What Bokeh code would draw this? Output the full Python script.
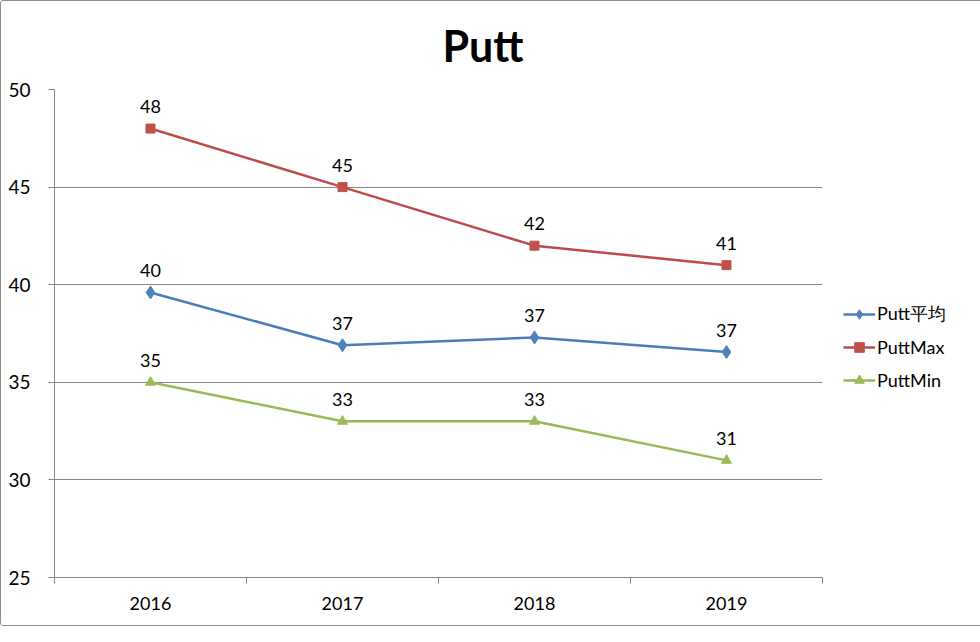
from bokeh.plotting import figure
from bokeh.models import Range1d, FixedTicker, Legend, LegendItem, ColumnDataSource
from bokeh.embed import file_html
from bokeh.resources import INLINE
from bokeh.core.properties import value

years = ["2016", "2017", "2018", "2019"]
putt_avg = [39.6, 36.9, 37.3, 36.55]
putt_max = [48, 45, 42, 41]
putt_min = [35, 33, 33, 31]
y_ticks = [25, 30, 35, 40, 45, 50]

FONT = "Lato, 'Noto Sans CJK SC', sans-serif"

xs = [i + 0.5 for i in range(len(years))]

p = figure(frame_width=768, frame_height=488, output_backend="svg", toolbar_location=None,
           x_range=Range1d(0, len(years)), y_range=Range1d(25, 50),
           min_border_left=53, min_border_right=141, min_border_top=88, min_border_bottom=48,
           title="Putt")
p.styles = {"border": "1px solid #8c8c8c", "border-radius": "3px"}
p.outline_line_color = None
p.background_fill_color = "white"
p.border_fill_color = "white"

p.title.text_font = FONT
p.title.text_font_size = "43px"
p.title.text_font_style = "bold"
p.title.text_color = "black"
p.title.align = "left"
p.title.offset = 388
p.title.vertical_align = "top"
p.title.standoff = 34

# x axis
p.xaxis.ticker = FixedTicker(ticks=xs, minor_ticks=list(range(len(years) + 1)))
p.xaxis.major_label_overrides = {x: y for x, y in zip(xs, years)}
p.xaxis.major_tick_line_color = None
p.xaxis.major_tick_out = 0
p.xaxis.major_tick_in = 0
p.xaxis.minor_tick_line_color = "#868686"
p.xaxis.minor_tick_out = 6
p.xaxis.minor_tick_in = 0
p.xaxis.axis_line_color = "#868686"
p.xaxis.major_label_text_font = FONT
p.xaxis.major_label_text_font_size = "18px"
p.xaxis.major_label_text_color = "black"
p.xaxis.major_label_standoff = 13

# y axis
p.yaxis.ticker = FixedTicker(ticks=y_ticks)
p.yaxis.axis_line_color = "#868686"
p.yaxis.major_tick_line_color = "#868686"
p.yaxis.major_tick_out = 6
p.yaxis.major_tick_in = 0
p.yaxis.minor_tick_line_color = None
p.yaxis.major_label_text_font = FONT
p.yaxis.major_label_text_font_size = "19px"
p.yaxis.major_label_text_color = "black"
p.yaxis.major_label_standoff = 18

p.xgrid.grid_line_color = None
p.ygrid.ticker = FixedTicker(ticks=y_ticks)
p.ygrid.grid_line_color = "#868686"
p.ygrid.grid_line_width = 1

series = [
    ("Putt平均", putt_avg, "#4A7EBB", "#4F81BD", "diamond", 13),
    ("PuttMax", putt_max, "#BE4B48", "#C0504D", "square", 9),
    ("PuttMin", putt_min, "#98B954", "#9BBB59", "triangle", 10),
]

items = []
for name, vals, lc, mc, marker, size in series:
    src = ColumnDataSource(dict(x=xs, y=vals, lab=[f"{v:.0f}" for v in vals]))
    r1 = p.line("x", "y", source=src, line_color=lc, line_width=2.5)
    r2 = p.scatter("x", "y", source=src, marker=marker, size=size,
                   fill_color=mc, line_color=mc)
    p.text("x", "y", text="lab", source=src, text_align="center",
           text_baseline="alphabetic", y_offset=-22, text_font=value(FONT),
           text_font_size="18px", text_color="black")
    items.append(LegendItem(label=name, renderers=[r1, r2]))

legend = Legend(items=items, location=(21, 185), orientation="vertical",
                label_text_font="Lato", label_text_font_size="18px",
                label_text_color="black",
                glyph_width=32, glyph_height=24, label_height=24, spacing=9,
                padding=0, margin=-8, label_standoff=2,
                border_line_color=None, background_fill_alpha=0)
p.add_layout(legend, "right")

open("out.html", "w").write(file_html(p, INLINE))
